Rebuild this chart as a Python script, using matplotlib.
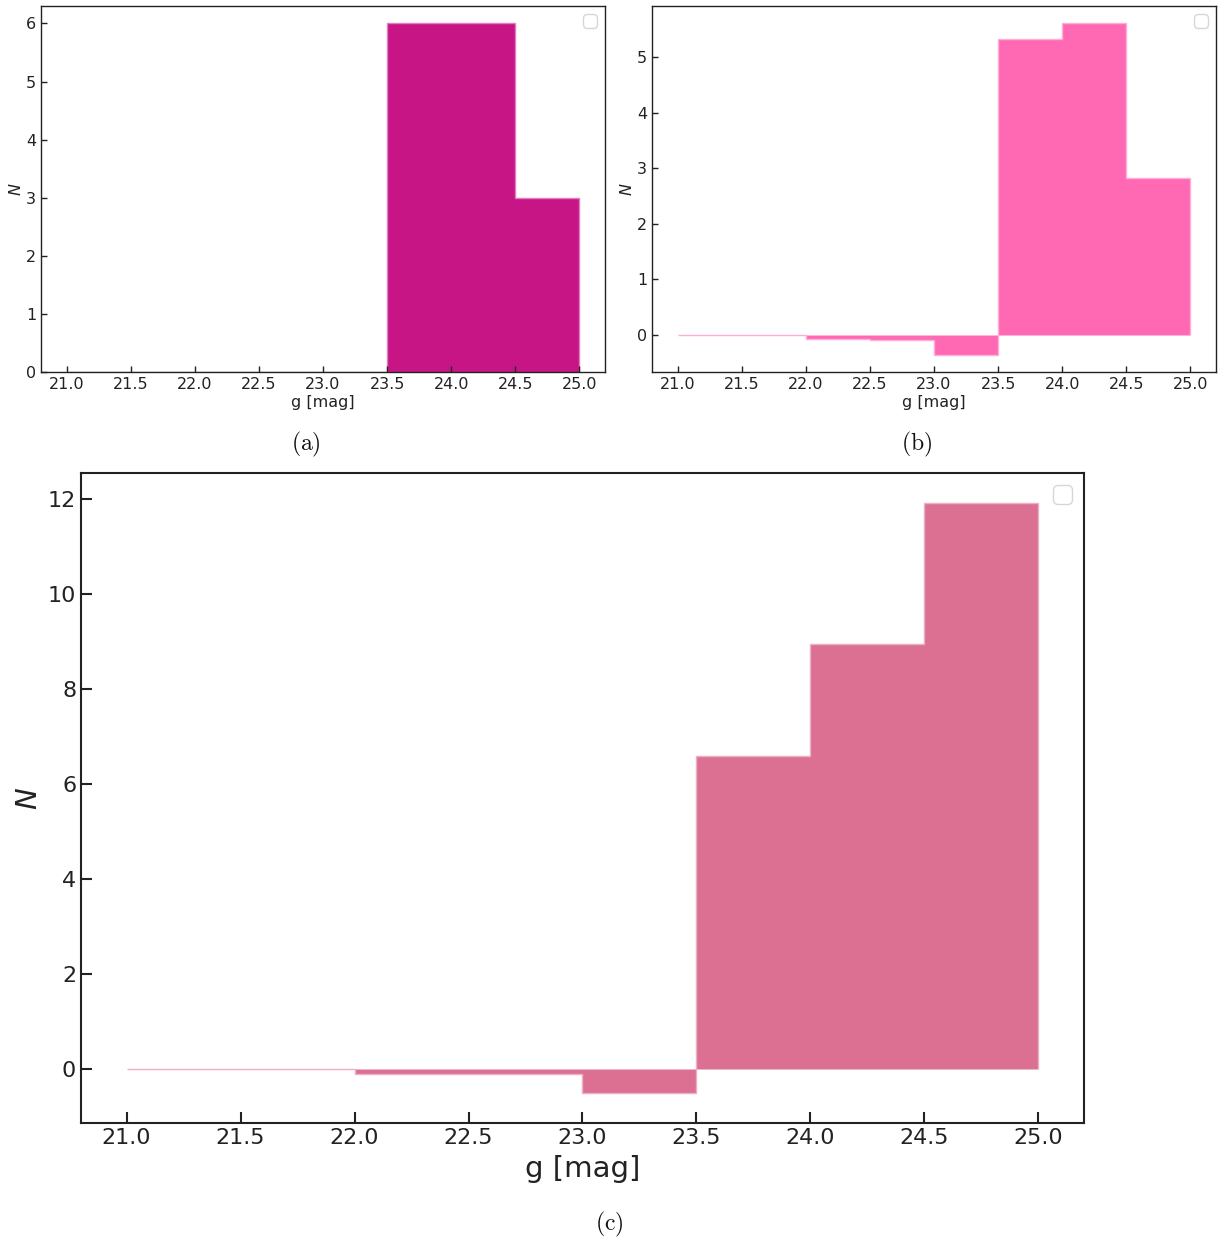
import numpy as np
import matplotlib
matplotlib.use("Agg")
import matplotlib.pyplot as plt
from matplotlib.colors import to_rgb

plt.rcParams["mathtext.fontset"] = "cm"

# Magnitude bin edges shared by all three histograms
bin_edges = [21.0, 21.5, 22.0, 22.5, 23.0, 23.5, 24.0, 24.5, 25.0]

# Per-bin counts
counts_a = [0, 0, 0, 0, 0, 6, 6, 3]
counts_b = [0.0, 0.0, -0.08, -0.09, -0.37, 5.33, 5.62, 2.82]
counts_c = [0.0, 0.0, -0.10, -0.10, -0.51, 6.59, 8.95, 11.92]

xticks = [21.0, 21.5, 22.0, 22.5, 23.0, 23.5, 24.0, 24.5, 25.0]
xlabel = "g [mag]"
ylabel = "N"
captions = ["(a)", "(b)", "(c)"]
colors = ["#C71585", "#FF69B4", "#DB7093"]


def tint(c, f=0.5):
    r, g, b = to_rgb(c)
    return (r + (1 - r) * f, g + (1 - g) * f, b + (1 - b) * f)


W, H = 1220, 1241
fig = plt.figure(figsize=(W / 100, H / 100), dpi=100)


def px_axes(left, top, right, bottom):
    return fig.add_axes([left / W, 1 - bottom / H, (right - left) / W, (bottom - top) / H])


def draw(ax, counts, color, fs_tick, fs_label, tick_len, tick_w, spine_w,
         legend_fs, xpad, ypad):
    ax.stairs(counts, bin_edges, fill=True, baseline=0,
              facecolor=color, edgecolor=tint(color, 0.45), linewidth=1.0)
    ax.set_xticks(xticks)
    ax.set_xticklabels([f"{t:.1f}" for t in xticks])
    ax.tick_params(direction="in", length=tick_len, width=tick_w,
                   labelsize=fs_tick, colors="#222222", top=False, right=False)
    for s in ax.spines.values():
        s.set_linewidth(spine_w)
        s.set_color("#222222")
    ax.set_xlabel(xlabel, fontsize=fs_label, labelpad=xpad, color="#222222")
    ax.set_ylabel(ylabel, fontsize=fs_label, labelpad=ypad, color="#222222",
                  fontstyle="italic")
    ax.legend(handles=[], loc="upper right", fontsize=legend_fs)


ax_a = px_axes(41, 6, 605, 372)
draw(ax_a, counts_a, colors[0], 11.5, 11.5, 4, 1.0, 1.0, 12, 2, 2)

ax_b = px_axes(652, 6, 1216, 372)
draw(ax_b, counts_b, colors[1], 11.5, 11.5, 4, 1.0, 1.0, 12, 2, 2)

ax_c = px_axes(81, 473, 1084, 1123)
draw(ax_c, counts_c, colors[2], 16, 21, 8, 1.5, 1.5, 17, 5, 4)

cap_kw = dict(fontsize=17, ha="center", va="center", color="#111111")
fig.text(306 / W, 1 - 444 / H, r"$\mathrm{(a)}$", **cap_kw)
fig.text(917 / W, 1 - 444 / H, r"$\mathrm{(b)}$", **cap_kw)
fig.text(609 / W, 1 - 1224 / H, r"$\mathrm{(c)}$", **cap_kw)

fig.savefig("out.png", dpi=100)
